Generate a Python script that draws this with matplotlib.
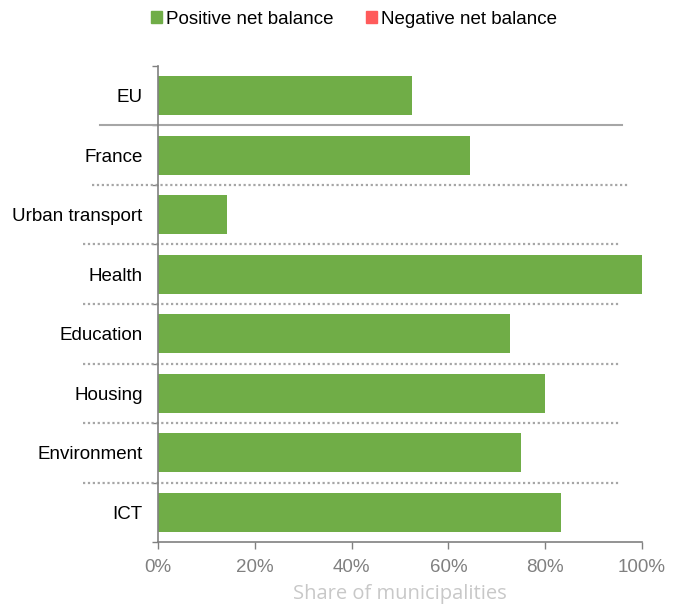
import numpy as np
import matplotlib.pyplot as plt
from matplotlib.patches import Patch

# categories top to bottom
categories = ['EU', 'France', 'Urban transport', 'Health', 'Education',
              'Housing', 'Environment', 'ICT']
positive = [52.5, 64.5, 14.3, 100.0, 72.7, 80.0, 75.0, 83.3]
negative = [0, 0, 0, 0, 0, 0, 0, 0]
x_ticks = [0, 20, 40, 60, 80, 100]
x_labels = ['0%', '20%', '40%', '60%', '80%', '100%']

green = '#70AD47'
red = '#FF5B5B'
grey = '#808080'

plt.rcParams['font.family'] = ['Liberation Sans', 'DejaVu Sans']

fig = plt.figure(figsize=(6.79, 6.05), dpi=100)
ax = fig.add_axes([0.2327, 0.104, 0.7128, 0.787])

y = np.arange(len(categories))
ax.barh(y, positive, height=0.66, color=green)
ax.barh(y, negative, height=0.66, color=red)

ax.set_ylim(len(categories) - 0.5, -0.5)
ax.set_xlim(0, 100)

ax.set_yticks(y)
ax.set_yticklabels(categories, fontsize=13.5, color='black')
ax.tick_params(axis='y', length=0, pad=11)
ax.set_yticks(np.arange(-0.5, len(categories), 1), minor=True)
ax.tick_params(axis='y', which='minor', length=4, color=grey, width=1)

ax.set_xticks(x_ticks)
ax.set_xticklabels(x_labels, fontsize=13.5, color=grey)
ax.tick_params(axis='x', length=5, color=grey, width=1, pad=7)
ax.set_xlabel('Share of municipalities', fontsize=14.5, color='#C8C8C8',
              family=['Open Sans', 'DejaVu Sans'], labelpad=6)

for s in ['top', 'right']:
    ax.spines[s].set_visible(False)
for s in ['left', 'bottom']:
    ax.spines[s].set_color(grey)
    ax.spines[s].set_linewidth(1.2)

trans = ax.get_yaxis_transform()
# solid separator between EU and France
ax.plot([-0.12, 0.959], [0.5, 0.5], transform=trans, color='#A6A6A6',
        lw=1.5, clip_on=False)
# dotted separators
for i in range(1, len(categories) - 1):
    x0, x1 = (-0.136, 0.971) if i == 1 else (-0.155, 0.955)
    ax.plot([x0, x1], [i + 0.5, i + 0.5], transform=trans, color='#A6A6A6',
            lw=1.6, ls=(0, (1, 1.2)), clip_on=False)

handles = [Patch(color=green, label='Positive net balance'),
           Patch(color=red, label='Negative net balance')]
fig.legend(handles=handles, loc='upper center', bbox_to_anchor=(0.521, 1.01),
           ncol=2, frameon=False, fontsize=13.5, handlelength=0.6,
           handleheight=0.6, handletextpad=0.2, columnspacing=1.75)

plt.savefig('out.png', dpi=100)
